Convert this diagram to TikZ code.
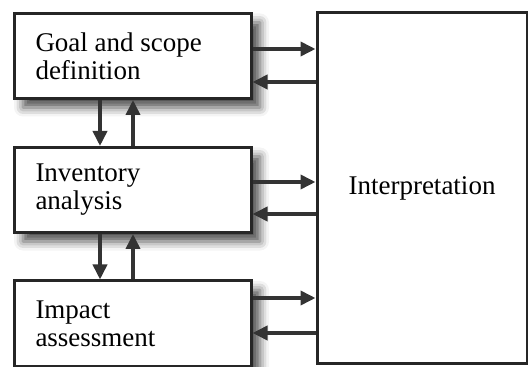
\documentclass[tikz,border=0pt]{standalone}
\usepackage{fontspec}
\setmainfont{Liberation Serif}
\usetikzlibrary{arrows.meta}
\usetikzlibrary{shadows.blur}

\begin{document}
\begin{tikzpicture}[x=0.5pt,y=-0.5pt,
  stage/.style={draw=black!85,line width=1.5pt,fill=white,
    minimum width=118.5pt,minimum height=42.5pt,
    text width=97pt,inner xsep=10pt,align=flush left,
    font=\fontsize{13.5}{14}\selectfont,
    blur shadow={shadow xshift=4.5pt,shadow yshift=-4.5pt,
      shadow blur radius=4.5pt,shadow opacity=70}},
  flow/.style={draw=black!80,line width=1.8pt,
    -{Triangle[length=7.5pt,width=7pt]}}]
\useasboundingbox (0,0) rectangle (528,367);
% the stages
\node[stage] (goal) at (132.5,56) {Goal and scope\\definition};
\node[stage] (inv) at (132.5,190) {Inventory\\analysis};
\node[stage] (imp) at (132.5,323.5) {Impact\\assessment};
\node[draw=black!85,line width=1.5pt,minimum width=105pt,minimum height=175pt,
  font=\fontsize{13.5}{14}\selectfont] (interp) at (422,188) {Interpretation};
% to and from the interpretation
\draw[flow] (goal.east |- 0,49) -- (interp.west |- 0,49);
\draw[flow] (interp.west |- 0,82) -- (goal.east |- 0,82);
\draw[flow] (inv.east |- 0,182) -- (interp.west |- 0,182);
\draw[flow] (interp.west |- 0,214) -- (inv.east |- 0,214);
\draw[flow] (imp.east |- 0,298) -- (interp.west |- 0,298);
\draw[flow] (interp.west |- 0,333) -- (imp.east |- 0,333);
% between the stages
\draw[flow] (goal.south -| 100,0) -- (inv.north -| 100,0);
\draw[flow] (inv.north -| 133,0) -- (goal.south -| 133,0);
\draw[flow] (inv.south -| 100,0) -- (imp.north -| 100,0);
\draw[flow] (imp.north -| 133,0) -- (inv.south -| 133,0);
\end{tikzpicture}
\end{document}
